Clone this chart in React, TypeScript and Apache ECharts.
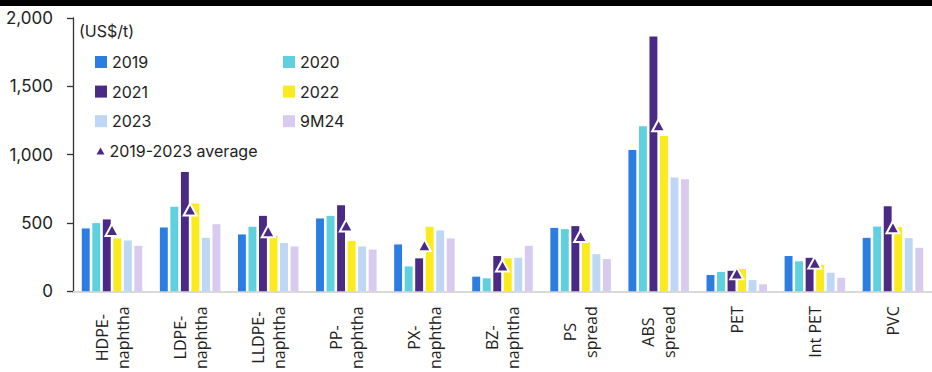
import React, { useEffect, useRef } from "react";
import * as echarts from "echarts";

// Petrochemical product spreads / prices by year (US$/t)
const categories = [
  "HDPE-\nnaphtha",
  "LDPE-\nnaphtha",
  "LLDPE-\nnaphtha",
  "PP-\nnaphtha",
  "PX-\nnaphtha",
  "BZ-\nnaphtha",
  "PS\nspread",
  "ABS\nspread",
  "PET",
  "Int PET",
  "PVC",
];

const seriesNames = ["2019", "2020", "2021", "2022", "2023", "9M24"];
const averageName = "2019-2023 average";

const v2019 = [460, 467, 416, 533, 343, 107, 464, 1034, 119, 258, 391];
const v2020 = [499, 618, 472, 552, 182, 95, 455, 1207, 141, 219, 474];
const v2021 = [526, 873, 552, 630, 241, 258, 477, 1864, 150, 245, 623];
const v2022 = [387, 642, 406, 369, 472, 241, 358, 1136, 163, 194, 469];
const v2023 = [372, 391, 353, 328, 445, 245, 272, 832, 82, 136, 389];
const v9M24 = [333, 491, 328, 305, 387, 333, 236, 820, 51, 99, 318];
const average = [449, 598, 440, 482, 337, 189, 405, 1215, 131, 210, 469];

const yTicks = { min: 0, max: 2000, interval: 500 };

const colors = ["#2b7de1", "#5fd0de", "#4b2a85", "#fbea1c", "#bdd7f5", "#d9cbef"];
const avgColor = "#4b2a85";

const SANS = "Inter, 'Noto Sans', sans-serif";
const LABEL_FONT = "'Open Sans', 'Noto Sans', sans-serif";

export default function App() {
  const ref = useRef<HTMLDivElement>(null);

  useEffect(() => {
    document.body.style.margin = "0";
    if (!ref.current) return;
    const chart = echarts.init(ref.current, undefined, { renderer: "svg" });

    const values = [v2019, v2020, v2021, v2022, v2023, v9M24];

    const bars = seriesNames.map((name, i) => ({
      name,
      type: "bar",
      data: values[i],
      barGap: "33%",
      barCategoryGap: "22.5%",
      itemStyle: { color: colors[i] },
      z: 2,
    }));

    const legendText = { fontFamily: SANS, fontSize: 16, color: "#222", lineHeight: 16 };

    chart.setOption({
      animation: false,
      backgroundColor: "#fff",
      title: {
        text: "(US$/t)",
        left: 79,
        top: 23,
        padding: 0,
        textStyle: {
          fontFamily: SANS,
          fontSize: 16,
          fontWeight: "normal",
          color: "#222",
          lineHeight: 16,
        },
      },
      graphic: [
        {
          type: "rect",
          left: 0,
          top: 0,
          shape: { width: 932, height: 6 },
          style: { fill: "#000" },
          z: 100,
        },
      ],
      legend: [
        {
          orient: "vertical",
          left: 95,
          top: 54,
          padding: 0,
          itemWidth: 12,
          itemHeight: 12,
          itemGap: 13.6,
          icon: "rect",
          selectedMode: false,
          textStyle: legendText,
          data: ["2019", "2021", "2023"],
        },
        {
          orient: "vertical",
          left: 283,
          top: 54,
          padding: 0,
          itemWidth: 12,
          itemHeight: 12,
          itemGap: 13.6,
          icon: "rect",
          selectedMode: false,
          textStyle: legendText,
          data: ["2020", "2022", "9M24"],
        },
        {
          orient: "vertical",
          left: 96.5,
          top: 143,
          padding: 0,
          itemWidth: 8,
          itemHeight: 7,
          selectedMode: false,
          textStyle: legendText,
          data: [
            {
              name: averageName,
              icon: "triangle",
              itemStyle: { color: avgColor, borderWidth: 0, opacity: 1 },
            },
          ],
        },
      ],
      grid: { left: 73, right: -11, top: 18, bottom: 80, containLabel: false },
      xAxis: {
        type: "category",
        data: categories,
        axisLine: { show: true, lineStyle: { color: "#d9d9d9", width: 2 } },
        axisTick: { show: false },
        axisLabel: {
          interval: 0,
          rotate: 90,
          margin: 15,
          color: "#222",
          formatter: (v: string) =>
            v
              .split("\n")
              .map((s) => `{c|${s}}`)
              .join("\n"),
          rich: {
            c: {
              align: "center",
              fontFamily: LABEL_FONT,
              fontSize: 16,
              lineHeight: 21,
              color: "#222",
            },
          },
        },
      },
      yAxis: {
        type: "value",
        min: yTicks.min,
        max: yTicks.max,
        interval: yTicks.interval,
        axisLine: { show: true, lineStyle: { color: "#333", width: 1.3 } },
        axisTick: { show: true, length: 6, lineStyle: { color: "#333", width: 1.3 } },
        splitLine: { show: false },
        axisLabel: {
          margin: 20,
          fontFamily: SANS,
          fontSize: 17,
          color: "#222",
          formatter: (v: number) => v.toLocaleString("en-US"),
        },
      },
      series: [
        ...bars,
        {
          name: averageName,
          type: "scatter",
          data: average,
          symbol: "triangle",
          symbolSize: [13, 12],
          itemStyle: { color: avgColor, borderColor: "#fff", borderWidth: 2, opacity: 1 },
          z: 5,
        },
      ],
    });

    return () => chart.dispose();
  }, []);

  return <div ref={ref} style={{ width: 932, height: 372 }} />;
}
